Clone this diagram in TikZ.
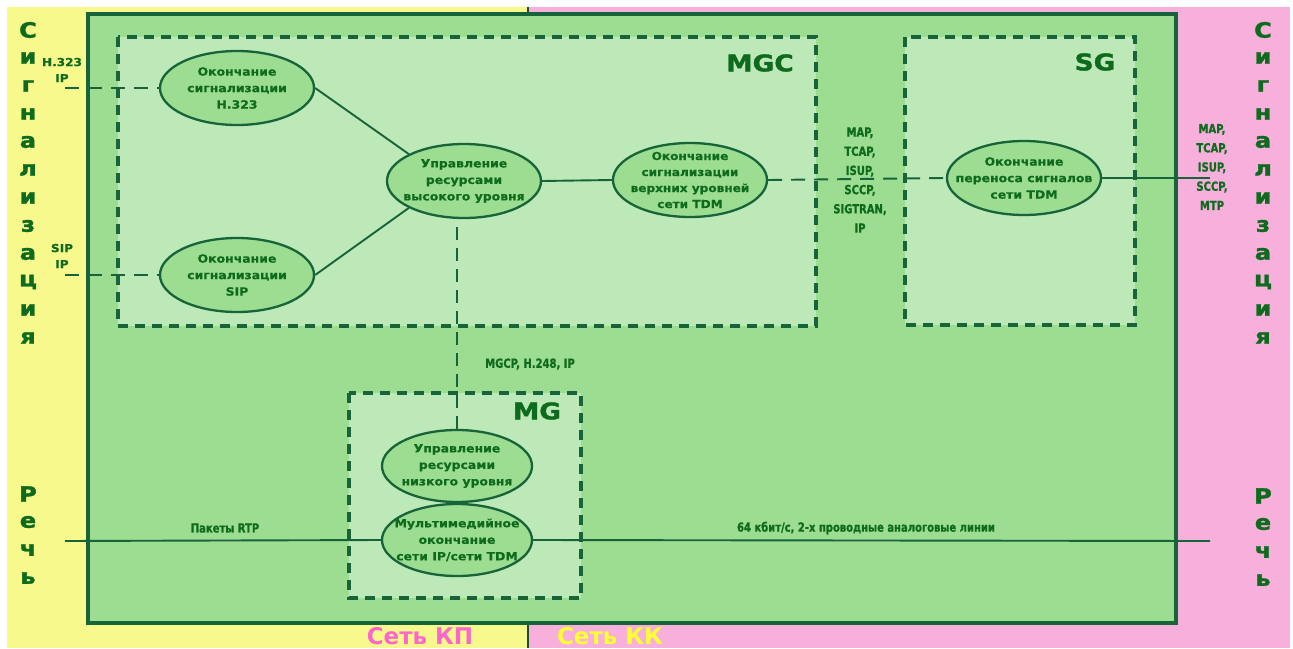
\documentclass[tikz,border=0pt]{standalone}
\usepackage{fontspec}
\setmainfont{DejaVu Sans}
\newfontfamily\wfont[FakeStretch=1.1, FakeBold=0.5]{DejaVu Sans Bold}
\newfontfamily\hfont[FakeStretch=1.15, FakeBold=1.5]{DejaVu Sans Bold}
\newfontfamily\nfont[FakeStretch=0.8, FakeBold=0.8]{DejaVu Sans Bold}
\newfontfamily\kfont{DejaVu Sans Bold}
\usetikzlibrary{shapes.geometric}
\definecolor{yel}{HTML}{F7F98D}
\definecolor{pnk}{HTML}{F6B0DB}
\definecolor{mgreen}{HTML}{9CDD91}
\definecolor{lgreen}{HTML}{BDE8B7}
\definecolor{dgreen}{HTML}{17643A}
\definecolor{tgreen}{HTML}{0E6A1C}
\definecolor{ptext}{HTML}{FF66CC}
\definecolor{ytext}{HTML}{FFFF33}
\tikzset{
  ell/.style={ellipse, draw=dgreen, line width=2.3pt, fill=mgreen, minimum width=154pt,
    minimum height=74pt, inner xsep=-30pt, inner ysep=-20pt, align=center, text=tgreen,
    font=\wfont\fontsize{11.3}{16.5}\selectfont},
  dbox/.style={draw=dgreen, line width=3.4pt, dash pattern=on 10pt off 7pt, fill=lgreen},
  conn/.style={draw=dgreen, line width=1.9pt},
  dconn/.style={draw=dgreen, line width=1.9pt, dash pattern=on 14pt off 9pt},
  vlet/.style={text=tgreen, font=\hfont\fontsize{21}{21}\selectfont, inner sep=0pt},
  boxlbl/.style={text=tgreen, font=\hfont\fontsize{23}{23}\selectfont, inner sep=0pt},
  small/.style={text=tgreen, font=\wfont\fontsize{11}{16}\selectfont, align=center, inner sep=0pt},
  cond/.style={text=tgreen, font=\nfont\fontsize{12.5}{15}\selectfont, align=center, inner sep=0pt},
  proto/.style={text=tgreen, font=\nfont\fontsize{12.5}{19.2}\selectfont, align=center, inner sep=0pt},
  net/.style={font=\kfont\fontsize{23}{23}\selectfont, inner sep=0pt}
}
\begin{document}
\begin{tikzpicture}[x=1pt,y=-1pt]
\useasboundingbox (0,0) rectangle (1293,648);
\fill[white] (0,0) rectangle (1293,648);
\fill[yel] (7,7) rectangle (528,648);
\fill[pnk] (528,7) rectangle (1290,648);
\draw[dgreen!80!black, line width=1.5pt] (528,7) -- (528,648);
% main box
\draw[dgreen, line width=4pt, fill=mgreen] (88,14) rectangle (1176,623);
% dashed boxes
\draw[dbox] (118,37) rectangle (816,326);
\draw[dbox] (905,37) rectangle (1135,325);
\draw[dbox] (349,393) rectangle (581,598);
\node[boxlbl] (lmgc) at (760,63) {MGC};
\node[boxlbl] (lsg) at (1095,62) {SG};
\node[boxlbl] (lmg) at (537,411) {MG};
% ellipses
\node[ell] (h323) at (237,88) {Окончание\\сигнализации\\H.323};
\node[ell] (sip) at (237,275) {Окончание\\сигнализации\\SIP};
\node[ell] (upr) at (464,181) {Управление\\ресурсами\\высокого уровня};
\node[ell, font=\wfont\fontsize{11}{16}\selectfont] (tdm) at (690,180) {Окончание\\сигнализации\\верхних уровней\\сети TDM};
\node[ell] (sgn) at (1024,178) {Окончание\\переноса сигналов\\сети TDM};
\node[ell, minimum width=150pt, minimum height=72pt] (low) at (457,466) {Управление\\ресурсами\\низкого уровня};
\node[ell, minimum width=150pt, minimum height=72pt] (mm) at (457,540) {Мультимедийное\\окончание\\сети IP/сети TDM};
% free ends
\coordinate (h323in) at (65,88);
\coordinate (sipin) at (65,275);
\coordinate (sgout) at (1210,178);
\coordinate (spin) at (65,541);
\coordinate (spout) at (1210,541);
% connectors
\draw[dconn] (h323in) -- (h323.west);
\draw[dconn] (sipin) -- (sip.west);
\draw[conn] (h323.east) -- (upr.north west);
\draw[conn] (sip.east) -- (upr.south west);
\draw[conn] (upr.east) -- (tdm.west);
\draw[dconn] (tdm.east) -- (sgn.west);
\draw[conn] (sgn.east) -- (sgout);
\draw[dconn, dash pattern=on 13pt off 8pt] (low.north) -- (low.north |- upr.south);
\draw[conn] (spin) -- (mm.west);
\draw[conn] (mm.east) -- (spout);
% labels
\node[small] (lh323) at (62,70) {H.323\\IP};
\node[small] (lsip) at (62,256) {SIP\\IP};
\node[proto] (lpl) at (860,180) {MAP,\\TCAP,\\ISUP,\\SCCP,\\SIGTRAN,\\IP};
\node[proto] (lpr) at (1212,167) {MAP,\\TCAP,\\ISUP,\\SCCP,\\MTP};
\node[cond] (lmgcp) at (530,364) {MGCP, H.248, IP};
\node[cond] (lrtp) at (225,528) {Пакеты RTP};
\node[cond] (l64) at (866,528) {64 кбит/с, 2-х проводные аналоговые линии};
% vertical words
\foreach \l [count=\i from 0] in {С,и,г,н,а,л,и,з,а,ц,и,я} {
  \node[vlet] (sl\i) at (28,30+28*\i) {\l};
  \node[vlet] (sr\i) at (1263,30+28*\i) {\l};
}
\foreach \l [count=\i from 0] in {Р,е,ч,ь} {
  \node[vlet] (rl\i) at (28,494+28*\i) {\l};
  \node[vlet] (rr\i) at (1263,496+28*\i) {\l};
}
\node[net, text=ptext] (kp) at (420,636) {Сеть КП};
\node[net, text=ytext] (kk) at (610,636) {Сеть КК};
\end{tikzpicture}
\end{document}
